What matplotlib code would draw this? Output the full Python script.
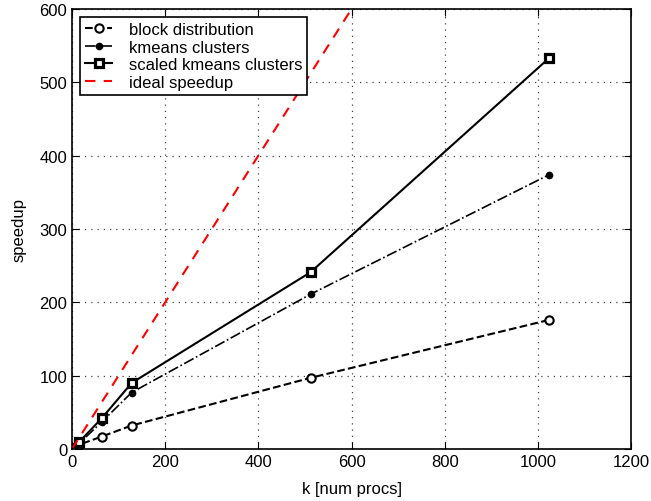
import matplotlib
matplotlib.use('Agg')
import matplotlib.pyplot as plt

plt.rcParams['font.family'] = ['Liberation Sans', 'DejaVu Sans']

procs = [1, 16, 64, 128, 512, 1024]
block_speedup = [1, 6, 17, 32, 97, 176]
kmeans_speedup = [1, 8, 37, 77, 211, 374]
scaled_speedup = [1, 10, 42, 90, 241, 533]
ideal_x = [0, 1200]
ideal_y = [0, 1200]

fig = plt.figure(figsize=(6.51, 5.02), dpi=100)
ax = fig.add_axes([0.1106, 0.1036, 0.8587, 0.8765])

ax.plot(procs, block_speedup, color='black', linestyle='--', marker='o',
        markerfacecolor='white', markersize=6, markeredgewidth=1.5,
        linewidth=1.5, label='block distribution')
ax.plot(procs, kmeans_speedup, color='black', linestyle='-.', marker='o',
        markerfacecolor='black', markersize=4.5, linewidth=1.2,
        label='kmeans clusters')
ax.plot(procs, scaled_speedup, color='black', linestyle='-', marker='s',
        markerfacecolor='white', markersize=5.5, markeredgewidth=2.3,
        linewidth=1.5, label='scaled kmeans clusters')
ax.plot(ideal_x, ideal_y, color='red', linestyle='--', linewidth=1.5,
        dashes=(5, 4), label='ideal speedup')

ax.set_xlim(0, 1200)
ax.set_ylim(0, 600)
ax.set_xticks(range(0, 1201, 200))
ax.set_yticks(range(0, 601, 100))
ax.tick_params(direction='in', length=5, labelsize=12, top=True, right=True)
ax.grid(True, linestyle=(0, (1, 4)), color='#444444', linewidth=0.9)
for s in ax.spines.values():
    s.set_linewidth(1.2)

ax.set_xlabel('k [num procs]', fontsize=12, labelpad=9)
ax.set_ylabel('speedup', fontsize=12, labelpad=9)

leg = ax.legend(loc='upper left', fontsize=12, fancybox=False, framealpha=1,
                edgecolor='black', handlelength=1.6, handletextpad=1.0,
                borderpad=0.3, labelspacing=0.15, borderaxespad=0.5)
leg.get_frame().set_linewidth(1.2)

plt.savefig('out.png', dpi=100)
plt.close()
